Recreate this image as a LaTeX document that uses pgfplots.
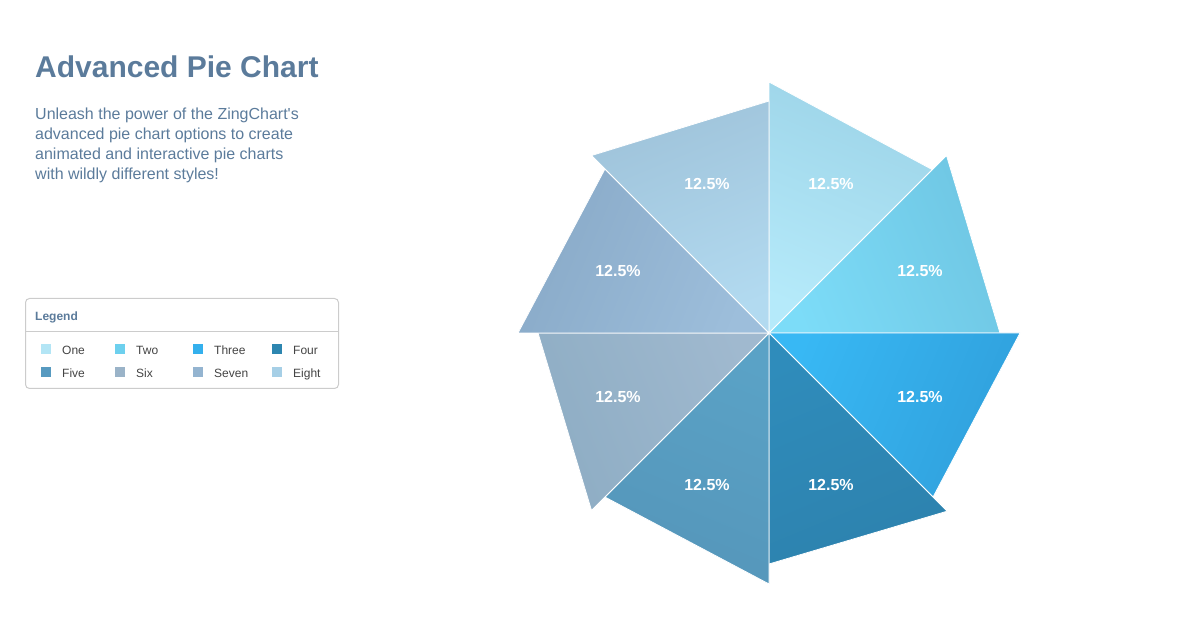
\documentclass[border=0pt]{standalone}
\usepackage{pgfplots}
\pgfplotsset{compat=1.18}
\usepackage{fontspec}
\setmainfont{Liberation Sans}
\newfontfamily\subfont{Liberation Sans}[Ligatures=TeXOff]
\definecolor{txt}{HTML}{5B7B9B}
\definecolor{lgtxt}{HTML}{444444}
\definecolor{oneO}{HTML}{9DD4E8}\definecolor{oneI}{HTML}{B5EAFA}
\definecolor{twoO}{HTML}{6FC6E3}\definecolor{twoI}{HTML}{7CDCF8}
\definecolor{threeO}{HTML}{30A0DC}\definecolor{threeI}{HTML}{38B8F4}
\definecolor{fourO}{HTML}{2D82AE}\definecolor{fourI}{HTML}{2F8CBB}
\definecolor{fiveO}{HTML}{5596BA}\definecolor{fiveI}{HTML}{5AA2C6}
\definecolor{sixO}{HTML}{8EADC4}\definecolor{sixI}{HTML}{A0B9CF}
\definecolor{sevenO}{HTML}{89AAC8}\definecolor{sevenI}{HTML}{9DBEDB}
\definecolor{eightO}{HTML}{9FC3DA}\definecolor{eightI}{HTML}{B2DAF0}
\definecolor{Lone}{HTML}{B3E5F5}\definecolor{Ltwo}{HTML}{6DD0EE}
\definecolor{Lthree}{HTML}{34B0ED}\definecolor{Lfour}{HTML}{2D86B0}
\definecolor{Lfive}{HTML}{579AC0}\definecolor{Lsix}{HTML}{9AB3C8}
\definecolor{Lseven}{HTML}{94B4D0}\definecolor{Leight}{HTML}{A6CFE6}
\begin{document}
\begin{tikzpicture}
\path (0,0) rectangle (1200pt,618pt);
\begin{axis}[x=1pt, y=1pt, xmin=-769, xmax=431, ymin=-285, ymax=333,
  hide axis, scale only axis, at={(0,0)}, anchor=south west, clip=false]
% slices: (angle, radius) in polar data cs
\addplot[data cs=polar, draw=white, line width=0.8pt, top color=oneO, bottom color=oneI, shading angle=-22.5]
  coordinates {(0,0) (90,251) (45,231) (0,0)};
\addplot[data cs=polar, draw=white, line width=0.8pt, top color=twoO, bottom color=twoI, shading angle=-67.5]
  coordinates {(0,0) (45,251) (0,231) (0,0)};
\addplot[data cs=polar, draw=white, line width=0.8pt, top color=threeO, bottom color=threeI, shading angle=-112.5]
  coordinates {(0,0) (0,251) (-45,232) (0,0)};
\addplot[data cs=polar, draw=white, line width=0.8pt, top color=fourO, bottom color=fourI, shading angle=-157.5]
  coordinates {(0,0) (-45,252) (-90,231) (0,0)};
\addplot[data cs=polar, draw=white, line width=0.8pt, top color=fiveO, bottom color=fiveI, shading angle=157.5]
  coordinates {(0,0) (-90,251) (-135,232) (0,0)};
\addplot[data cs=polar, draw=white, line width=0.8pt, top color=sixO, bottom color=sixI, shading angle=112.5]
  coordinates {(0,0) (-135,251) (-180,231) (0,0)};
\addplot[data cs=polar, draw=white, line width=0.8pt, top color=sevenO, bottom color=sevenI, shading angle=67.5]
  coordinates {(0,0) (180,251) (135,232) (0,0)};
\addplot[data cs=polar, draw=white, line width=0.8pt, top color=eightO, bottom color=eightI, shading angle=22.5]
  coordinates {(0,0) (135,251) (90,232) (0,0)};
% labels
\foreach \x/\y in {62/149, 151/62, 151/-64, 62/-152, -62/-152, -151/-64, -151/62, -62/149}{
  \edef\tmp{\noexpand\node[white, font=\noexpand\fontsize{16pt}{18pt}\noexpand\selectfont\noexpand\bfseries] at (axis cs:\x,\y) {12.5\noexpand\%};}\tmp
}
\end{axis}
% title and text
\node[anchor=base west, inner sep=0, text=txt, font=\fontsize{30pt}{34pt}\selectfont\bfseries] at (35pt,540pt) {Advanced Pie Chart};
\foreach \t [count=\i from 0] in {Unleash the power of the ZingChart's, advanced pie chart options to create, animated and interactive pie charts, with wildly different styles!}{
  \node[anchor=base west, inner sep=0, text=txt, font=\subfont\fontsize{16pt}{20pt}\selectfont] at (35pt,{498pt-\i*20pt}) {\t};
}
% legend
\draw[draw=black!20, line width=1pt, rounded corners=4pt, fill=white] (25.5pt,229.5pt) rectangle (338.5pt,319.5pt);
\draw[draw=black!20, line width=1pt] (25.5pt,286pt) -- (338.5pt,286pt);
\node[anchor=base west, inner sep=0, text=txt, font=\fontsize{12pt}{14pt}\selectfont\bfseries] at (35pt,297pt) {Legend};
\foreach \c/\n/\px/\py in {Lone/One/41/354, Ltwo/Two/115/354, Lthree/Three/193/354, Lfour/Four/272/354,
  Lfive/Five/41/377, Lsix/Six/115/377, Lseven/Seven/193/377, Leight/Eight/272/377}{
  \fill[\c] (\px pt,618pt-\py pt) rectangle ++(10pt,10pt);
  \node[anchor=base west, inner sep=0, text=lgtxt, font=\fontsize{12pt}{14pt}\selectfont] at (\px pt+21pt,617pt-\py pt) {\n};
}
\end{tikzpicture}
\end{document}
